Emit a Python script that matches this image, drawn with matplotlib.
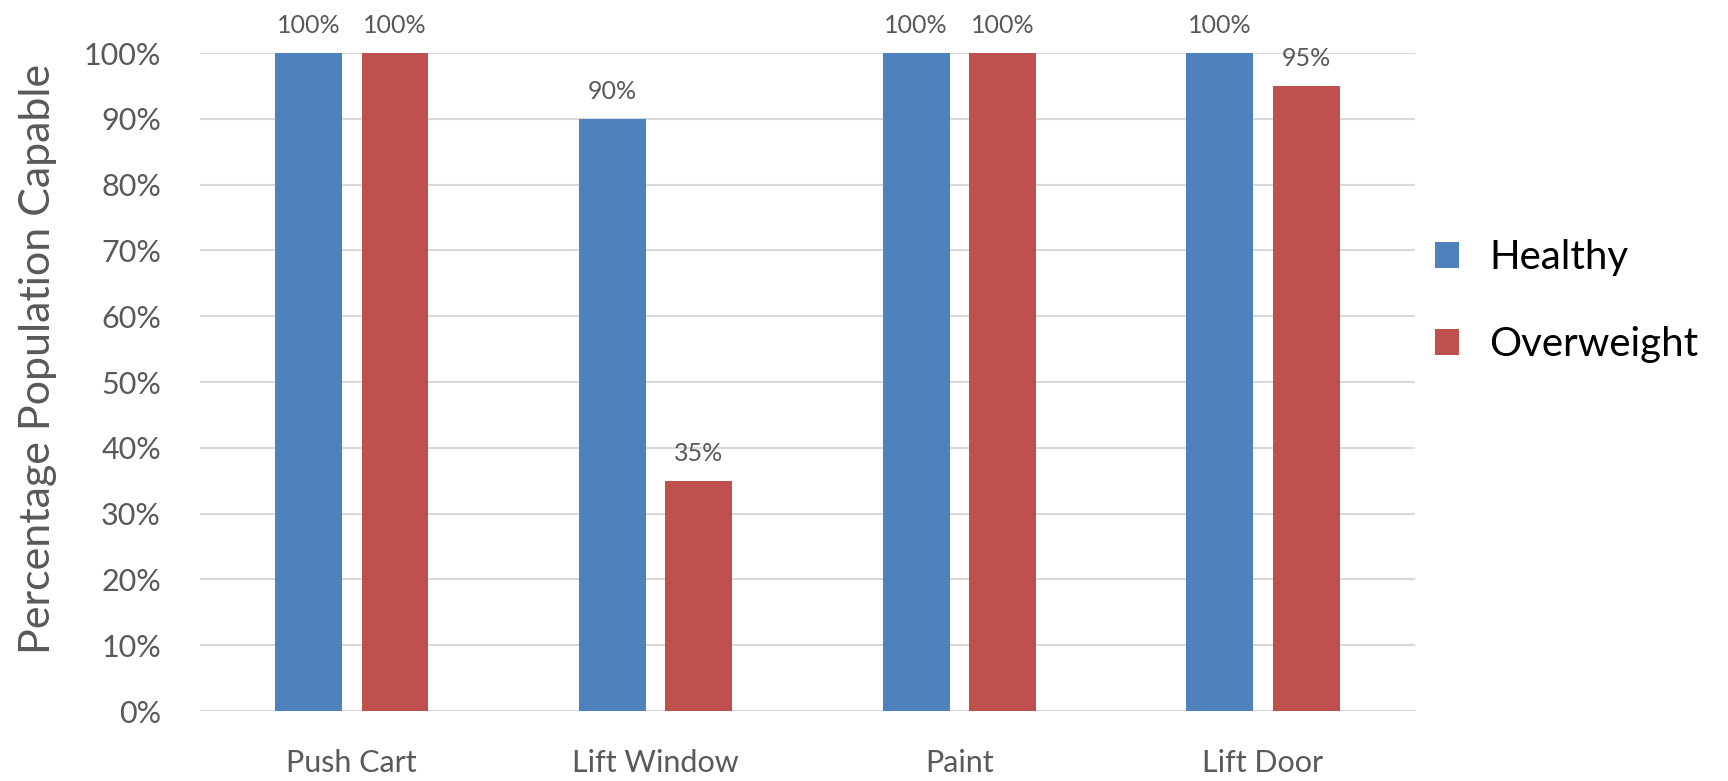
import matplotlib
matplotlib.use('Agg')
import matplotlib.pyplot as plt
import numpy as np

tasks = ['Push Cart', 'Lift Window', 'Paint', 'Lift Door']
healthy = [100, 90, 100, 100]
overweight = [100, 35, 100, 95]
series_names = ['Healthy', 'Overweight']
colors = ['#4F81BD', '#C0504D']

plt.rcParams['font.family'] = ['Lato', 'DejaVu Sans']
text_gray = '#595959'

fig = plt.figure(figsize=(17.28, 7.81), dpi=100)
ax = fig.add_axes([0.1157, 0.0896, 0.7031, 0.8424])

x = np.arange(len(tasks))
width = 0.22
offset = 0.142
for vals, name, col, dx in zip([healthy, overweight], series_names, colors, [-offset, offset]):
    bars = ax.bar(x + dx, vals, width, color=col, label=name, zorder=3)
    for b, v in zip(bars, vals):
        ax.text(b.get_x() + b.get_width() / 2, v + 2.4, f'{v}%', ha='center', va='bottom',
                fontsize=18, color=text_gray)

ax.set_xlim(-0.5, len(tasks) - 0.5)
ax.set_ylim(0, 100)
ax.set_yticks(np.arange(0, 101, 10))
ax.set_yticklabels([f'{t}%' for t in range(0, 101, 10)])
ax.set_xticks(x)
ax.set_xticklabels(tasks)
ax.tick_params(axis='both', length=0, labelsize=22, colors=text_gray)
ax.tick_params(axis='y', pad=28)
ax.tick_params(axis='x', pad=27)
ax.grid(axis='y', color='#D9D9D9', linewidth=1.5, zorder=0)
for s in ax.spines.values():
    s.set_visible(False)
ax.set_ylabel('Percentage Population Capable', fontsize=31, color=text_gray)
ax.yaxis.set_label_coords(-0.118, 0.535)

leg = ax.legend(loc='center left', bbox_to_anchor=(1.0, 0.623), frameon=False, fontsize=29,
                handlelength=0.6, handleheight=0.6, labelspacing=1.25, handletextpad=0.75,
                borderaxespad=0.1)
for t in leg.get_texts():
    t.set_color('black')

fig.savefig('out.png', dpi=100)
